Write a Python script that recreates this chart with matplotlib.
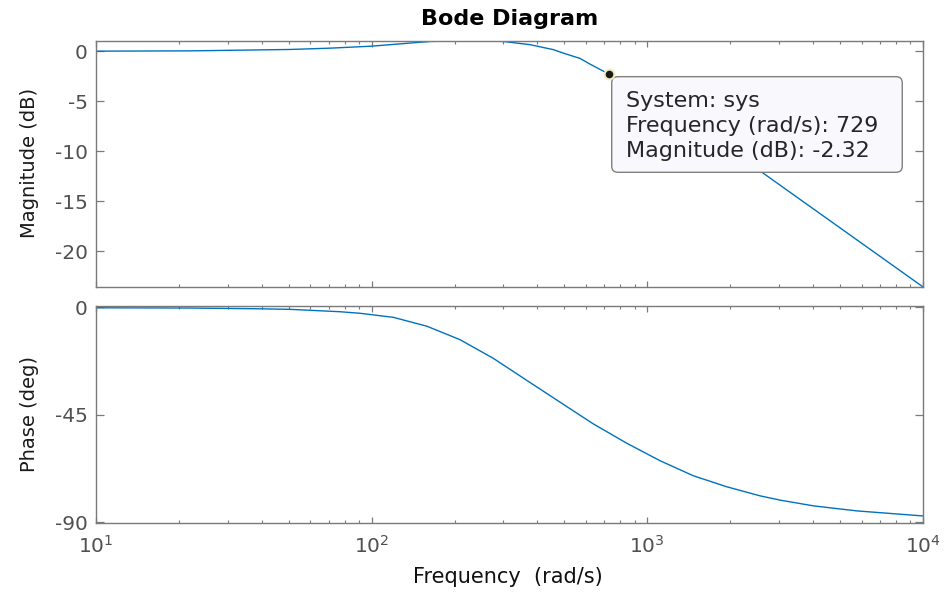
import numpy as np
import matplotlib.pyplot as plt
from matplotlib.patches import FancyBboxPatch
from matplotlib.ticker import LogLocator, FixedLocator, NullFormatter

plt.rcParams["axes.unicode_minus"] = False

# values
mag_freq = [10, 21.9, 33.4, 50.6, 70.6, 100, 123, 163, 201, 248, 301, 376, 457, 497, 571, 621, 729,
            2626, 10000]
mag_db = [0.0, 0.03, 0.1, 0.17, 0.3, 0.5, 0.7, 0.97, 1.04, 1.05, 0.97, 0.65, 0.15, -0.2, -0.73, -1.3,
          -2.32, -12.17, -23.57]

ph_freq = [10, 21.9, 38.3, 50.6, 76.9, 90.8, 120, 158.6, 209, 277, 366, 483, 638, 844, 1114,
           1472, 1945, 2570, 3040, 4020, 5770, 10000]
ph_deg = [-0.2, -0.3, -0.6, -0.85, -1.85, -2.5, -4.2, -7.9, -13.5, -21.4, -30.6, -39.7, -48.8,
          -56.9, -64.2, -70.5, -75.1, -78.9, -80.7, -83.1, -85.2, -87.3]

mag_ticks = [0, -5, -10, -15, -20]
ph_ticks = [0, -45, -90]
tip_freq = 729
tip_mag = -2.32

line_col = "#0072BD"
axis_col = "#7a7a7a"
tick_txt = "#505050"

fig = plt.figure(figsize=(9.48, 5.92), dpi=100)
ax1 = fig.add_axes([0.1013, 0.5157, 0.872, 0.4156])
ax2 = fig.add_axes([0.1013, 0.1160, 0.872, 0.3676])

for ax in (ax1, ax2):
    ax.set_xscale("log")
    ax.set_xlim(10, 1e4)
    ax.xaxis.set_major_locator(LogLocator(base=10, numticks=10))
    ax.xaxis.set_minor_locator(LogLocator(base=10, subs=np.arange(2, 10), numticks=20))
    ax.xaxis.set_minor_formatter(NullFormatter())
    ax.tick_params(which="both", direction="in", top=True, right=True,
                   color=axis_col, labelcolor=tick_txt, labelsize=14.5)
    ax.tick_params(axis="x", which="major", length=4.5, width=0.9, pad=8)
    ax.tick_params(axis="x", which="minor", length=2.3, width=0.8)
    ax.tick_params(axis="y", which="major", length=6, width=0.9, pad=6)
    for s in ax.spines.values():
        s.set_color(axis_col)
        s.set_linewidth(1.0)

ax1.plot(mag_freq, mag_db, color=line_col, lw=1.0)
ax1.set_ylim(-23.57, 1.05)
ax1.yaxis.set_major_locator(FixedLocator(mag_ticks))
ax1.xaxis.set_major_formatter(NullFormatter())
ax1.set_ylabel("Magnitude (dB)", fontsize=14, color="#1a1a1a")
ax1.yaxis.set_label_coords(-0.069, 0.503)
ax1.set_title("Bode Diagram", fontsize=16, fontweight="bold", pad=11)

# data tip
ax1.plot([tip_freq], [tip_mag], "o", ms=7, mfc="#1a1a1a", mec="#f2ecc0", mew=1.5, zorder=6)
tip_box = FancyBboxPatch((0.6238, 0.465), 0.3515, 0.3887, transform=ax1.transAxes,
                         boxstyle="round,pad=0,rounding_size=0.0075", mutation_aspect=3.36,
                         fc="#f8f8fd", ec="#808080", lw=1.0, zorder=5)
ax1.add_patch(tip_box)
ax1.text(0.6405, 0.797,
         f"System: sys\nFrequency (rad/s): {tip_freq}\nMagnitude (dB): {tip_mag}",
         transform=ax1.transAxes, ha="left", va="top", fontsize=16, color="#262626",
         linespacing=1.32, zorder=7)

ax2.plot(ph_freq, ph_deg, color=line_col, lw=1.0)
ax2.set_ylim(-90.4, 0.67)
ax2.yaxis.set_major_locator(FixedLocator(ph_ticks))
ax2.set_ylabel("Phase (deg)", fontsize=14, color="#1a1a1a")
ax2.yaxis.set_label_coords(-0.069, 0.502)
ax2.set_xlabel("Frequency  (rad/s)", fontsize=15, color="#111111")
ax2.xaxis.set_label_coords(0.498, -0.2)

fig.savefig("out.png", dpi=100)
